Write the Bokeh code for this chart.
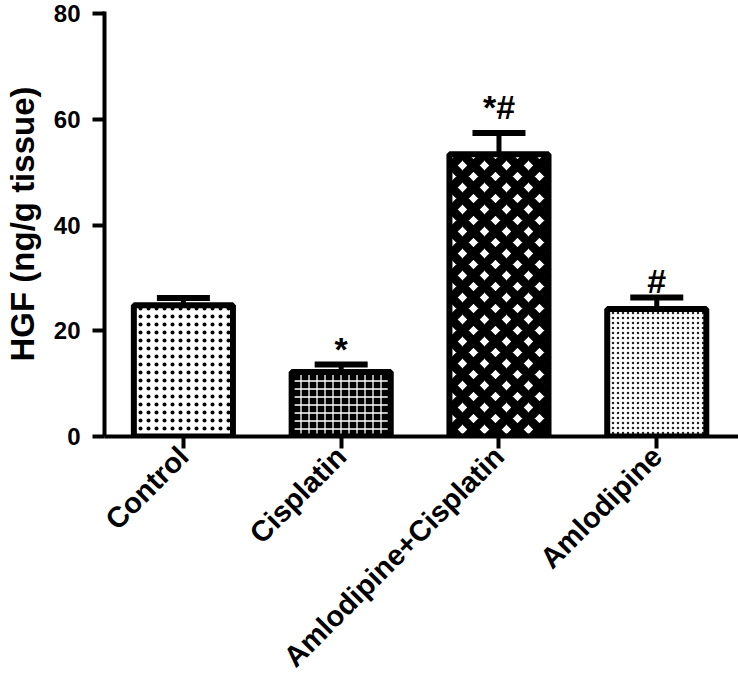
import numpy as np
from bokeh.plotting import figure
from bokeh.models import ColumnDataSource, Range1d, FixedTicker, Whisker, TeeHead
from bokeh.core.properties import value
from bokeh.embed import file_html
from bokeh.resources import INLINE

# ---- data ----
categories = ["Control", "Cisplatin", "Amlodipine+Cisplatin", "Amlodipine"]
means = [24.8, 12.2, 53.4, 24.1]
sems = [1.4, 1.4, 4.0, 2.2]
marks = ["", "*", "*#", "#"]
y_ticks = [0, 20, 40, 60, 80]

# ---- styles per bar ----
fills = ["white", "black", "white", "white"]
hatch_patterns = ["dot", "cross", "diagonal_cross", "dot"]
hatch_colors = ["black", "white", "black", "#222222"]
hatch_scales = [8, 8, 22, 5]
hatch_weights = [1.6, 1.3, 9, 1.3]
mark_offsets = [-15, -16, -26, -16]

FONT = "Liberation Sans"

x = np.arange(len(categories)) + 0.5
src = ColumnDataSource(dict(
    x=x, top=means, upper=np.array(means) + np.array(sems), lower=means,
    fill=fills, hp=hatch_patterns, hc=hatch_colors, hs=hatch_scales, hw=hatch_weights,
    mark=marks, moff=mark_offsets,
))

p = figure(width=738, height=687, output_backend="svg", toolbar_location=None,
           x_range=Range1d(0, 4.018), y_range=Range1d(0, 80.38),
           min_border_left=98, min_border_right=0, min_border_top=11, min_border_bottom=251)
p.outline_line_color = None
p.xgrid.visible = False
p.ygrid.visible = False
p.background_fill_color = "white"
p.border_fill_color = "white"

p.vbar(x="x", top="top", bottom=0, width=0.628, source=src,
       fill_color="fill", line_color="black", line_width=6,
       hatch_pattern="hp", hatch_color="hc", hatch_scale="hs", hatch_weight="hw")

w = Whisker(base="x", upper="upper", lower="lower", source=src, dimension="height",
            line_color="black", line_width=5,
            upper_head=TeeHead(size=53, line_width=6, line_color="black"),
            lower_head=None, level="overlay")
p.add_layout(w)

p.text(x="x", y="upper", text="mark", source=src, text_align="center",
       text_baseline="alphabetic", y_offset="moff", text_font=value(FONT),
       text_font_style="bold", text_font_size="34px", text_color="black")

# axes
for ax in (p.xaxis[0], p.yaxis[0]):
    ax.axis_line_width = 4
    ax.axis_line_color = "black"
    ax.major_tick_line_width = 4
    ax.major_tick_line_color = "black"
    ax.major_tick_out = 12
    ax.major_tick_in = 0
    ax.minor_tick_line_color = None
    ax.major_label_text_font = FONT
    ax.major_label_text_font_style = "bold"
    ax.major_label_text_color = "black"

p.yaxis.ticker = FixedTicker(ticks=y_ticks)
p.yaxis.major_label_text_font_size = "24px"
p.yaxis.major_label_standoff = 12
p.yaxis.axis_label = "HGF (ng/g tissue)"
p.yaxis.axis_label_text_font = FONT
p.yaxis.axis_label_text_font_style = "bold"
p.yaxis.axis_label_text_font_size = "33px"
p.yaxis.axis_label_text_color = "black"
p.yaxis.axis_label_standoff = 10

p.xaxis.ticker = FixedTicker(ticks=list(x))
p.xaxis.major_label_overrides = {float(v): c for v, c in zip(x, categories)}
p.xaxis.major_label_orientation = np.pi / 4
p.xaxis.major_label_text_font_size = "29px"
p.xaxis.major_label_standoff = 3

open("out.html", "w").write(file_html(p, INLINE))
